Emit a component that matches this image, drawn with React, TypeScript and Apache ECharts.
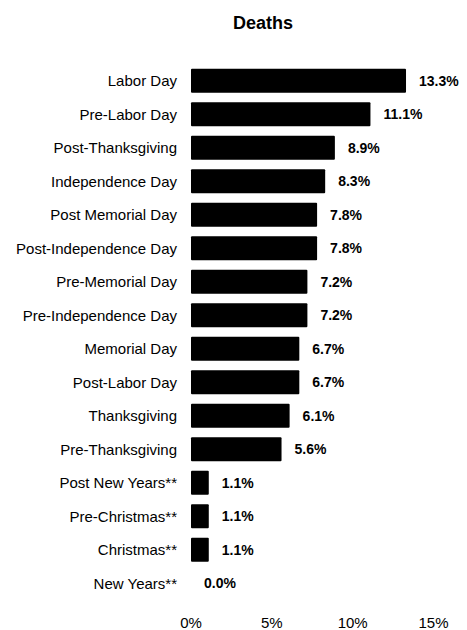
import React, { useEffect, useRef } from "react";
import * as echarts from "echarts";

const categories = [
  "Labor Day",
  "Pre-Labor Day",
  "Post-Thanksgiving",
  "Independence Day",
  "Post Memorial Day",
  "Post-Independence Day",
  "Pre-Memorial Day",
  "Pre-Independence Day",
  "Memorial Day",
  "Post-Labor Day",
  "Thanksgiving",
  "Pre-Thanksgiving",
  "Post New Years**",
  "Pre-Christmas**",
  "Christmas**",
  "New Years**",
];
const values = [13.3, 11.1, 8.9, 8.3, 7.8, 7.8, 7.2, 7.2, 6.7, 6.7, 6.1, 5.6, 1.1, 1.1, 1.1, 0.0];
const xTicks = [0, 5, 10, 15];

export default function App() {
  const ref = useRef<HTMLDivElement>(null);
  useEffect(() => {
    if (!ref.current) return;
    const chart = echarts.init(ref.current, undefined, { renderer: "svg" });
    const font = "'Liberation Sans', Arial, sans-serif";
    chart.setOption({
      animation: false,
      title: {
        text: "Deaths",
        left: 258,
        top: 9,
        textAlign: "center",
        textStyle: { fontFamily: font, fontSize: 18, fontWeight: "bold", color: "#000" },
      },
      grid: { left: 191, right: 33.5, top: 64, bottom: 29 },
      xAxis: {
        type: "value",
        min: xTicks[0],
        max: xTicks[xTicks.length - 1],
        interval: 5,
        axisLine: { show: false },
        axisTick: { show: false },
        splitLine: { show: false },
        axisLabel: {
          formatter: (v: number) => v + "%",
          fontFamily: font,
          fontSize: 15,
          color: "#000",
          margin: 15,
        },
      },
      yAxis: {
        type: "category",
        data: categories,
        inverse: true,
        axisLine: { show: false },
        axisTick: { show: false },
        axisLabel: { fontFamily: font, fontSize: 15, color: "#000", margin: 14 },
      },
      series: [
        {
          type: "bar",
          data: values,
          barCategoryGap: "28%",
          itemStyle: { color: "#000", borderRadius: 1 },
          label: {
            show: true,
            position: "right",
            distance: 13,
            formatter: (p: any) => p.value.toFixed(1) + "%",
            fontFamily: font,
            fontSize: 14,
            fontWeight: "bold",
            color: "#000",
          },
        },
      ],
    });
    return () => chart.dispose();
  }, []);
  return <div ref={ref} style={{ width: 467, height: 630, position: "absolute", left: 0, top: 0 }} />;
}
